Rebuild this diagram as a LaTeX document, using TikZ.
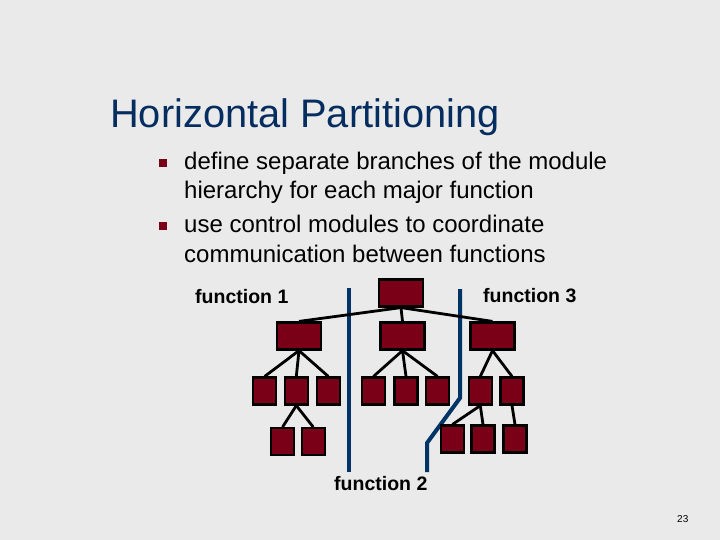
\documentclass[tikz,border=0pt]{standalone}
\usepackage{fontspec}
\setmainfont{Liberation Sans}
\definecolor{bg}{RGB}{234,234,234}
\definecolor{boxred}{RGB}{122,0,24}
\definecolor{navy}{RGB}{0,51,102}
\definecolor{titleblue}{RGB}{5,45,95}
\begin{document}
\begin{tikzpicture}[x=1pt,y=-1pt,
  module/.style={draw=black,fill=boxred,line width=2.2pt,inner sep=0pt,minimum width=#1},
  big/.style={module=44pt,minimum height=27pt},
  small/.style={module=23pt,minimum height=27pt},
  link/.style={draw=black,line width=2.8pt},
  divider/.style={draw=navy,line width=4pt},
  bulletsq/.style={fill=boxred,inner sep=0pt,minimum size=8pt},
  body/.style={anchor=base west,inner sep=0pt,font=\fontsize{24}{28}\selectfont},
  flabel/.style={anchor=base west,inner sep=0pt,font=\fontsize{19.5}{22}\selectfont\bfseries}]
\fill[bg] (0,0) rectangle (720,540);
\useasboundingbox (0,0) rectangle (720,540);
% title and bullets
\node[anchor=base west,inner sep=0pt,text=titleblue,font=\fontsize{39.8}{44}\selectfont] (title) at (110,128) {Horizontal Partitioning};
\node[bulletsq] (b1) at (163,163) {};
\node[bulletsq] (b2) at (163,226) {};
\node[body] (t1) at (184,170) {define separate branches of the module};
\node[body] (t2) at (184,199) {hierarchy for each major function};
\node[body] (t3) at (184,233) {use control modules to coordinate};
\node[body] (t4) at (184,262) {communication between functions};
% labels
\node[flabel] (f1) at (195,303) {function 1};
\node[flabel] (f3) at (483,302) {function 3};
\node[flabel] (f2) at (334,490) {function 2};
\node[anchor=base west,inner sep=0pt,font=\fontsize{10}{12}\selectfont] (pg) at (677,522) {23};
% dividers
\draw[divider] (348.5,288) -- (348.5,472);
\draw[divider] (460,289) -- (460,398) -- (427,443) -- (427,472);
% modules
\node[big] (T) at (401,293) {};
\node[big] (A) at (299,336) {};
\node[big] (B) at (402.5,336) {};
\node[big] (C) at (492.5,336) {};
\node[small] (A1) at (264.7,391) {};
\node[small] (A2) at (296.3,391) {};
\node[small] (A3) at (328.3,391) {};
\node[small] (B1) at (373.5,391) {};
\node[small] (B2) at (406,391) {};
\node[small] (B3) at (437.5,391) {};
\node[small] (C1) at (480.3,391) {};
\node[small] (C2) at (512,391) {};
\node[small] (A21) at (282.5,441.7) {};
\node[small] (A22) at (313.3,441.7) {};
\node[small] (C11) at (452.5,439) {};
\node[small] (C12) at (483,439) {};
\node[small] (C21) at (515,439) {};
% links
\draw[link] (T.south) -- (A.north);
\draw[link] (T.south) -- (B.north);
\draw[link] (T.south) -- (C.north);
\draw[link] (A.south) -- (A1.north);
\draw[link] (A.south) -- (A2.north);
\draw[link] (A.south) -- (A3.north);
\draw[link] (B.south) -- (B1.north);
\draw[link] (B.south) -- (B2.north);
\draw[link] (B.south) -- (B3.north);
\draw[link] (C.south) -- (C1.north);
\draw[link] (C.south) -- (C2.north);
\draw[link] (A2.south) -- (A21.north);
\draw[link] (A2.south) -- (A22.north);
\draw[link] (C1.south) -- (C11.north);
\draw[link] (C1.south) -- (C12.north);
\draw[link] (C2.south) -- (C21.north);
\end{tikzpicture}
\end{document}
